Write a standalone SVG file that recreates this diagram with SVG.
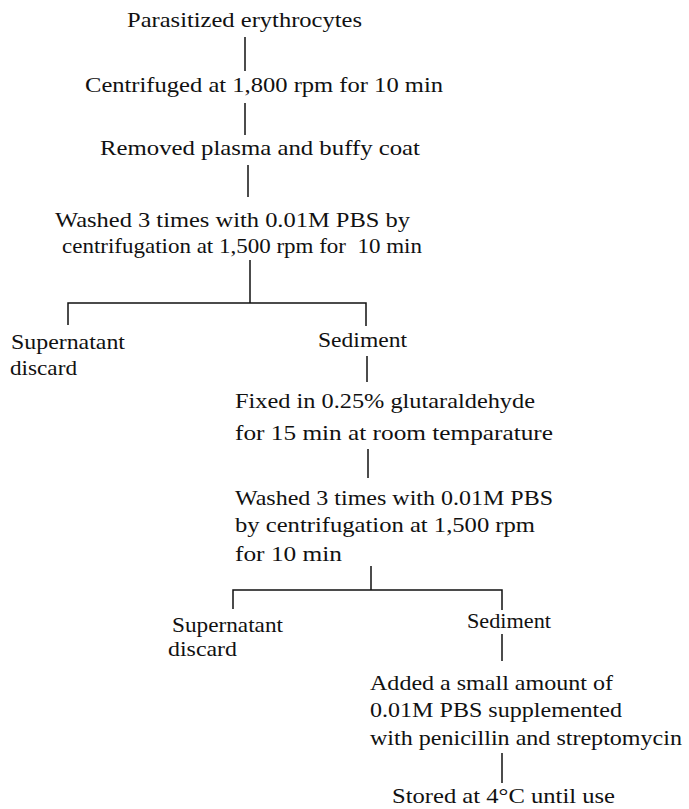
<svg xmlns="http://www.w3.org/2000/svg" width="689" height="809" viewBox="0 0 689 809">
<style>
text{font-family:"Liberation Serif","Times New Roman",serif;font-size:21px;fill:#111;}
.c{stroke:#111;stroke-width:1.5;fill:none;}
</style>
<rect width="689" height="809" fill="#fff"/>
<g id="connectors">
<line class="c" x1="245" y1="37" x2="245" y2="71"/>
<line class="c" x1="245" y1="103" x2="245" y2="135"/>
<line class="c" x1="248" y1="165" x2="248" y2="197"/>
<line class="c" x1="250" y1="260" x2="250" y2="303"/>
<polyline class="c" points="68,325 68,303 366,303 366,326"/>
<line class="c" x1="367" y1="356" x2="367" y2="382"/>
<line class="c" x1="368" y1="449" x2="368" y2="478"/>
<line class="c" x1="371" y1="566" x2="371" y2="590"/>
<polyline class="c" points="233,609 233,590 502,590 502,610"/>
<line class="c" x1="502" y1="634" x2="502" y2="661"/>
<line class="c" x1="502" y1="753" x2="502" y2="783"/>
</g>
<g id="n1"><text x="127" y="27" textLength="235" lengthAdjust="spacingAndGlyphs">Parasitized erythrocytes</text></g>
<g id="n2"><text x="85" y="92" textLength="358" lengthAdjust="spacingAndGlyphs">Centrifuged at 1,800 rpm for 10 min</text></g>
<g id="n3"><text x="100" y="155" textLength="320" lengthAdjust="spacingAndGlyphs">Removed plasma and buffy coat</text></g>
<g id="n4">
<text x="55" y="227" textLength="355" lengthAdjust="spacingAndGlyphs">Washed 3 times with 0.01M PBS by</text>
<text x="62" y="253" textLength="360" lengthAdjust="spacingAndGlyphs" xml:space="preserve">centrifugation at 1,500 rpm for  10 min</text>
</g>
<g id="n5">
<text x="11" y="349" textLength="114" lengthAdjust="spacingAndGlyphs">Supernatant</text>
<text x="10" y="375" textLength="67" lengthAdjust="spacingAndGlyphs">discard</text>
</g>
<g id="n6"><text x="318" y="347" textLength="89" lengthAdjust="spacingAndGlyphs">Sediment</text></g>
<g id="n7">
<text x="235" y="408" textLength="300" lengthAdjust="spacingAndGlyphs">Fixed in 0.25% glutaraldehyde</text>
<text x="235" y="440" textLength="318" lengthAdjust="spacingAndGlyphs">for 15 min at room temparature</text>
</g>
<g id="n8">
<text x="235" y="505" textLength="318" lengthAdjust="spacingAndGlyphs">Washed 3 times with 0.01M PBS</text>
<text x="235" y="532" textLength="300" lengthAdjust="spacingAndGlyphs">by centrifugation at 1,500 rpm</text>
<text x="235" y="561" textLength="107" lengthAdjust="spacingAndGlyphs">for 10 min</text>
</g>
<g id="n9">
<text x="172" y="632" textLength="111" lengthAdjust="spacingAndGlyphs">Supernatant</text>
<text x="168" y="656" textLength="69" lengthAdjust="spacingAndGlyphs">discard</text>
</g>
<g id="n10"><text x="467" y="628" textLength="84" lengthAdjust="spacingAndGlyphs">Sediment</text></g>
<g id="n11">
<text x="370" y="690" textLength="243" lengthAdjust="spacingAndGlyphs">Added a small amount of</text>
<text x="370" y="717" textLength="252" lengthAdjust="spacingAndGlyphs">0.01M PBS supplemented</text>
<text x="370" y="745" textLength="312" lengthAdjust="spacingAndGlyphs">with penicillin and streptomycin</text>
</g>
<g id="n12"><text x="392" y="803" textLength="223" lengthAdjust="spacingAndGlyphs">Stored at 4°C until use</text></g>
</svg>
